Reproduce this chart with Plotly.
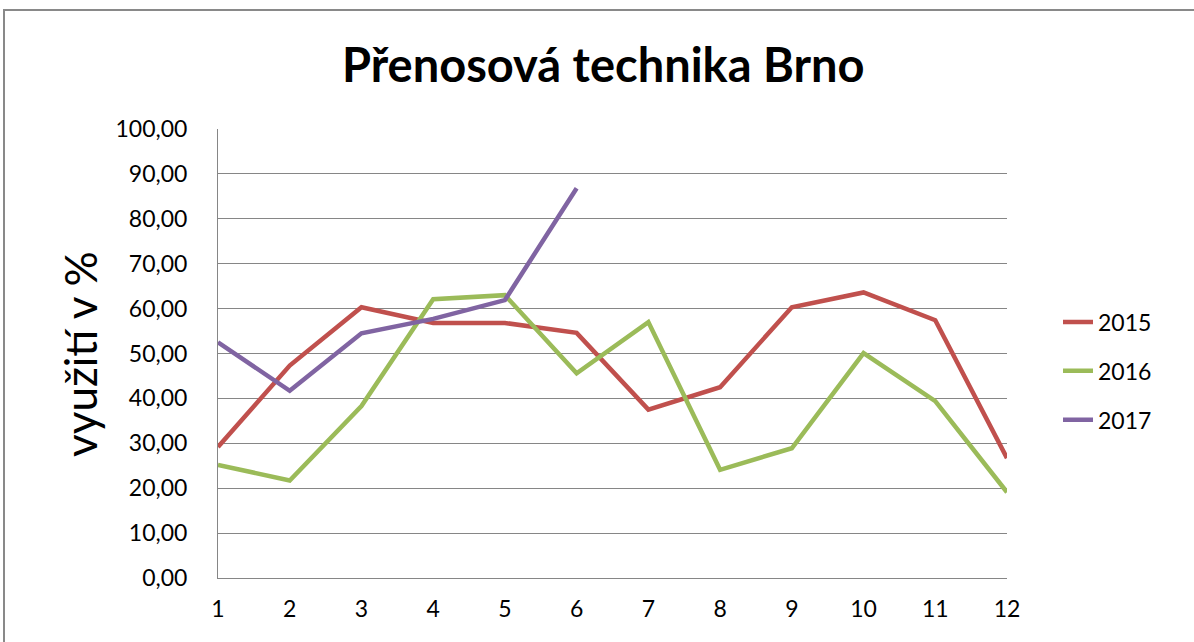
import plotly.graph_objects as go

months = [1, 2, 3, 4, 5, 6, 7, 8, 9, 10, 11, 12]
v2015 = [29.2, 47.3, 60.3, 56.8, 56.8, 54.6, 37.5, 42.5, 60.3, 63.6, 57.4, 26.7]
v2016 = [25.2, 21.7, 38.3, 62.1, 63.0, 45.6, 57.0, 24.1, 28.9, 50.1, 39.4, 19.1]
m2017 = [1, 2, 3, 4, 5, 6]
v2017 = [52.5, 41.7, 54.5, 57.7, 61.9, 86.8]
series_names = ["2015", "2016", "2017"]
colors = ["#C0504D", "#9BBB59", "#8064A2"]
ytick_vals = [0, 10, 20, 30, 40, 50, 60, 70, 80, 90, 100]
ytick_text = ["0,00", "10,00", "20,00", "30,00", "40,00", "50,00",
              "60,00", "70,00", "80,00", "90,00", "100,00"]
title_text = "Přenosová technika Brno"
ytitle_text = "využití v %"

FONT = "Lato"

fig = go.Figure()
for name, xs, ys, c in zip(series_names, [months, months, m2017], [v2015, v2016, v2017], colors):
    fig.add_trace(go.Scatter(x=xs, y=ys, mode="lines", name=name, legendgroup=name,
                             line=dict(color=c, width=4.5)))

W, H = 1194, 642
# plot area in page pixels
PL, PR, PT, PB = 218, 1007, 129, 578
L, T, R, B = PL, PT, W - PR, H - PB
pw = PR - PL
ph = PB - PT

def px_x(p):
    return (p - PL) / pw

def px_y(p):
    return (PB - p) / ph

fig.update_layout(
    width=W, height=H,
    margin=dict(l=L, r=R, t=T, b=B, pad=0),
    paper_bgcolor="white", plot_bgcolor="white",
    font=dict(family=FONT, color="#000000", size=23),
    showlegend=True,
    legend=dict(x=px_x(1058), y=px_y(371), xanchor="left", yanchor="middle",
                font=dict(size=23, family=FONT, color="#000"),
                tracegroupgap=16, itemwidth=30, bgcolor="rgba(0,0,0,0)"),
    xaxis=dict(range=[1, 12], tickvals=months, ticktext=[str(m) for m in months],
               showgrid=False, zeroline=False, showline=True, linecolor="#868686",
               linewidth=1, ticks="outside", ticklen=10, tickcolor="rgba(0,0,0,0)",
               tickfont=dict(size=23, family=FONT, color="#000")),
    yaxis=dict(range=[0, 100], tickvals=ytick_vals, ticktext=ytick_text,
               showgrid=True, gridcolor="#868686", gridwidth=1, zeroline=False,
               showline=True, linecolor="#868686", linewidth=1,
               ticks="outside", ticklen=25, tickcolor="rgba(0,0,0,0)",
               tickfont=dict(size=23, family=FONT, color="#000")),
    shapes=[dict(type="rect", xref="paper", yref="paper",
                 x0=px_x(4), x1=px_x(1220), y0=px_y(670), y1=px_y(10),
                 line=dict(color="#898989", width=2), layer="below")],
    annotations=[
        dict(text="<b>" + title_text + "</b>", xref="paper", yref="paper",
             x=px_x(603), y=px_y(64), xanchor="center", yanchor="middle",
             showarrow=False, font=dict(size=47, family=FONT, color="#000")),
        dict(text=ytitle_text, xref="paper", yref="paper",
             x=px_x(80), y=px_y(354), xanchor="center", yanchor="middle",
             textangle=-90, showarrow=False,
             font=dict(size=44, family=FONT, color="#000")),
    ],
)

fig.write_html("out.html",
               config={"displayModeBar": False},
               post_script="document.body.style.margin='0';document.body.style.overflow='hidden';")
